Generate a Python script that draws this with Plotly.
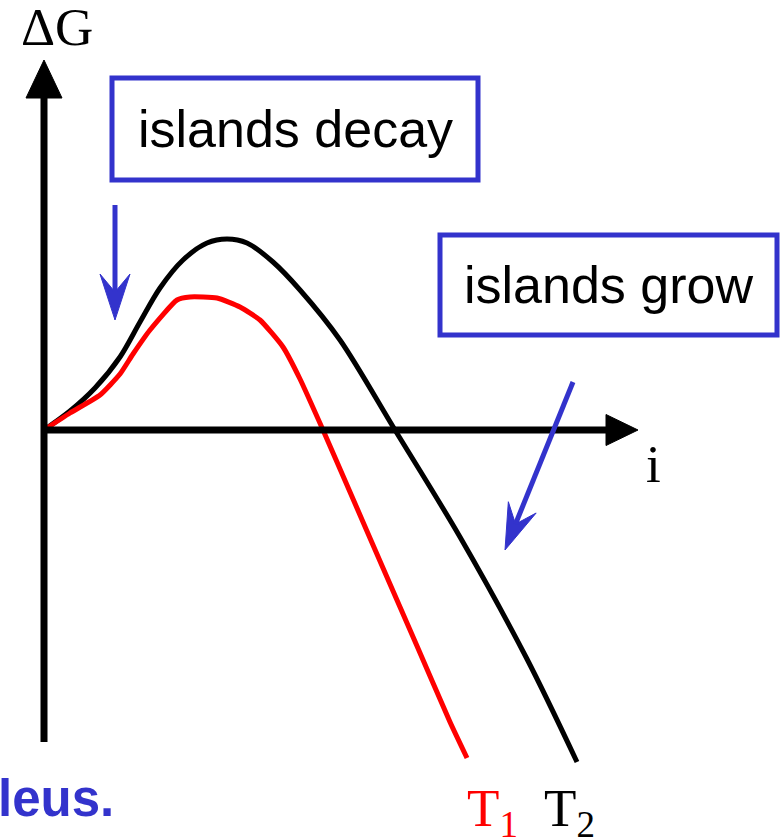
import math
import plotly.graph_objects as go

# ---------------- data (i, ΔG) in arbitrary units ----------------
t2_i = [0, 2.6, 5.1, 7.6, 9.6, 11.6, 13.9, 16.3, 18.3, 20.3, 22.9, 25.6,
        29.6, 35.1, 41.6, 48.3, 53.3]
t2_dg = [0, 1.9, 4.2, 7.3, 10.8, 14.2, 17.0, 18.7, 19.1, 18.7, 16.8, 14.0,
         9.0, 0, -10.7, -22.9, -33.2]

t1_i = [0, 2.6, 5.6, 7.6, 8.9, 10.6, 13.3, 14.6, 17.3, 19.6, 21.6, 23.9, 25.6, 27.9,
        30.6, 33.9, 37.3, 40.6, 42.3]
t1_dg = [0, 1.7, 3.5, 5.6, 7.6, 10.0, 13.0, 13.3, 13.2, 12.3, 11.0, 8.3, 5.1, 0,
         -6.2, -13.8, -21.6, -29.2, -32.8]

series_names = ["T<sub>1</sub>", "T<sub>2</sub>"]
box_texts = ["islands decay", "islands grow"]
axis_labels = ["ΔG", "i"]
caption = "leus."

# ---------------- styles / layout geometry ----------------
BLUE = "#3333cc"
RED = "#ff0000"
BLACK = "#000000"
X_RANGE = [-4.4, 73.8]
Y_RANGE = [-41.0, 43.0]

fig = go.Figure()

fig.add_trace(go.Scatter(x=t2_i, y=t2_dg, mode="lines",
                         line=dict(color=BLACK, width=5, shape="spline", smoothing=0.9),
                         hoverinfo="skip"))
fig.add_trace(go.Scatter(x=t1_i, y=t1_dg, mode="lines",
                         line=dict(color=RED, width=5, shape="spline", smoothing=0.5),
                         hoverinfo="skip"))

shapes = []


def arrow_head(start, tip, length, half_w, notch, color):
    dx, dy = tip[0] - start[0], tip[1] - start[1]
    n = math.hypot(dx, dy)
    ux, uy = dx / n, dy / n
    px, py = -uy, ux
    bx, by = tip[0] - length * ux, tip[1] - length * uy
    b1 = (bx + half_w * px, by + half_w * py)
    b2 = (bx - half_w * px, by - half_w * py)
    nx, ny = tip[0] - (length - notch) * ux, tip[1] - (length - notch) * uy
    path = (f"M {tip[0]},{tip[1]} L {b1[0]},{b1[1]} L {nx},{ny} "
            f"L {b2[0]},{b2[1]} Z")
    shapes.append(dict(type="path", path=path, fillcolor=color,
                       line=dict(color=color, width=1), layer="above"))
    return (nx, ny)


def arrow(start, tip, width, length, half_w, notch, color):
    base = arrow_head(start, tip, length, half_w, notch, color)
    shapes.append(dict(type="line", x0=start[0], y0=start[1], x1=base[0], y1=base[1],
                       line=dict(color=color, width=width), layer="above"))


# axes
arrow((0, -31.2), (0, 37.0), 7, 3.8, 1.8, 0.0, BLACK)
arrow((0, 0), (59.4, 0), 7, 3.2, 1.55, 0.0, BLACK)

# blue process arrows
arrow((7.1, 22.5), (7.1, 11.0), 5, 4.6, 1.5, 1.8, BLUE)
arrow((52.9, 4.8), (46.1, -12.0), 5, 4.6, 1.5, 1.8, BLUE)

# boxes
boxes = [(6.8, 25.0, 43.4, 35.2), (39.6, 9.5, 73.3, 19.5)]
for (x0, y0, x1, y1) in boxes:
    shapes.append(dict(type="rect", x0=x0, y0=y0, x1=x1, y1=y1,
                       line=dict(color=BLUE, width=5), fillcolor="rgba(0,0,0,0)"))

annotations = []
box_font = dict(family="Liberation Sans, Arial, sans-serif", size=52, color=BLACK)
for (x0, y0, x1, y1), txt in zip(boxes, box_texts):
    annotations.append(dict(x=(x0 + x1) / 2, y=(y0 + y1) / 2, text=txt, showarrow=False,
                            xanchor="center", yanchor="middle", font=box_font))

serif = "Liberation Serif, Times New Roman, serif"
annotations.append(dict(x=1.3, y=40.3, text=axis_labels[0], showarrow=False,
                        xanchor="center", yanchor="middle",
                        font=dict(family=serif, size=53, color=BLACK)))
annotations.append(dict(x=60.9, y=-3.4, text=axis_labels[1], showarrow=False,
                        xanchor="center", yanchor="middle",
                        font=dict(family=serif, size=53, color=BLACK)))
annotations.append(dict(x=42.1, y=-38.2, text=series_names[0], showarrow=False,
                        xanchor="left", yanchor="middle",
                        font=dict(family=serif, size=53, color=RED)))
annotations.append(dict(x=49.8, y=-38.2, text=series_names[1], showarrow=False,
                        xanchor="left", yanchor="middle",
                        font=dict(family=serif, size=53, color=BLACK)))
annotations.append(dict(x=7.2, y=-36.8, text=f"<b>{caption}</b>", showarrow=False,
                        xanchor="right", yanchor="middle",
                        font=dict(family="Liberation Sans, Arial, sans-serif",
                                  size=51, color=BLUE)))

fig.update_layout(
    width=782, height=840,
    margin=dict(l=0, r=0, t=0, b=0),
    paper_bgcolor="white", plot_bgcolor="white",
    showlegend=False,
    xaxis=dict(range=X_RANGE, visible=False, fixedrange=True),
    yaxis=dict(range=Y_RANGE, visible=False, fixedrange=True),
    shapes=shapes,
    annotations=annotations,
)

fig.write_html("out.html",
               config={"displayModeBar": False},
               post_script="document.body.style.margin='0';document.body.style.overflow='hidden';")
